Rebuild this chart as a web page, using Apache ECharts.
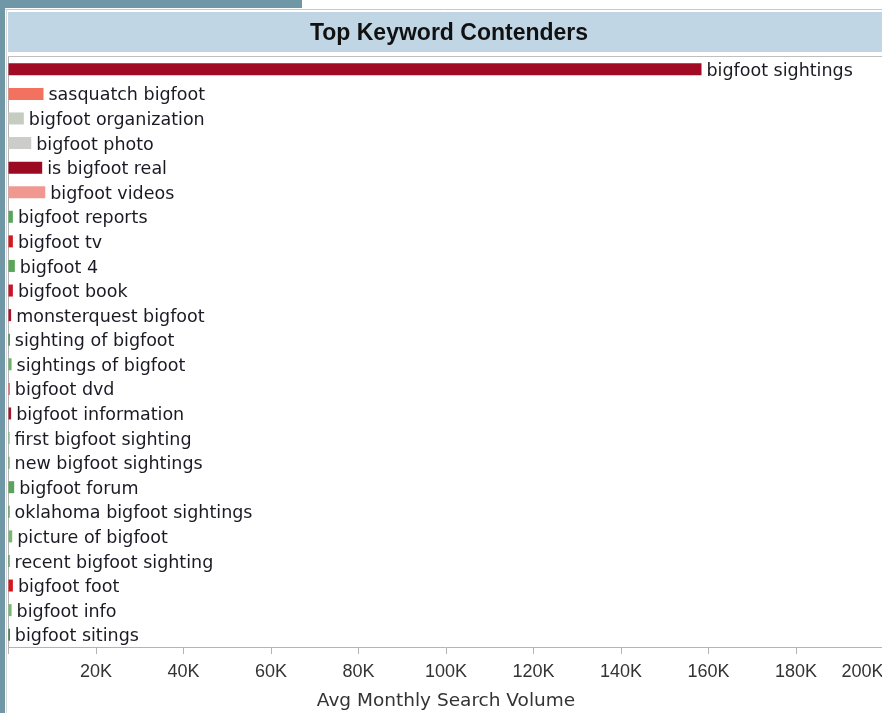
<!DOCTYPE html>
<html>
<head>
<meta charset="utf-8">
<script src="https://cdn.jsdelivr.net/npm/echarts@6/dist/echarts.min.js"></script>
<style>
html,body{margin:0;padding:0;background:#fff;}
#chart{width:882px;height:713px;}
</style>
</head>
<body>
<div id="chart"></div>
<script>
var categories = ['bigfoot sightings', 'sasquatch bigfoot', 'bigfoot organization', 'bigfoot photo', 'is bigfoot real', 'bigfoot videos', 'bigfoot reports', 'bigfoot tv', 'bigfoot 4', 'bigfoot book', 'monsterquest bigfoot', 'sighting of bigfoot', 'sightings of bigfoot', 'bigfoot dvd', 'bigfoot information', 'first bigfoot sighting', 'new bigfoot sightings', 'bigfoot forum', 'oklahoma bigfoot sightings', 'picture of bigfoot', 'recent bigfoot sighting', 'bigfoot foot', 'bigfoot info', 'bigfoot sitings'];
var searchVolume = [158400, 8000, 3500, 5200, 7700, 8400, 1000, 1000, 1450, 1000, 600, 300, 700, 300, 600, 250, 250, 1300, 250, 850, 250, 1000, 700, 300];
var xTickValues = [20000, 40000, 60000, 80000, 100000, 120000, 140000, 160000, 180000, 200000];
var titleText = 'Top Keyword Contenders';
var axisTitle = 'Avg Monthly Search Volume';

var barColors = ['#a10b23', '#f2725f', '#c5ccc0', '#cccdc8', '#9c0a22', '#f09890', '#5aa55a', '#d41a1f', '#5ca65c', '#c8152a', '#a8132b', '#2f8a3b', '#6cb06a', '#e8555a', '#a0182e', '#7cba76', '#5ea55e', '#5ba35b', '#3e9445', '#79b873', '#3a8f42', '#d6151d', '#77b870', '#1a6e30'];

var chart = echarts.init(document.getElementById('chart'), null, {renderer: 'canvas'});
var teal = '#6f97a5';
var option = {
  animation: false,
  backgroundColor: '#ffffff',
  graphic: [
    {type: 'rect', shape: {x: 0, y: 0, width: 5, height: 713}, style: {fill: teal}, silent: true},
    {type: 'rect', shape: {x: 0, y: 0, width: 302, height: 8}, style: {fill: teal}, silent: true},
    {type: 'line', shape: {x1: 5, y1: 9.5, x2: 882, y2: 9.5}, style: {stroke: '#c8c8c8', lineWidth: 1}, silent: true},
    {type: 'line', shape: {x1: 6.5, y1: 9, x2: 6.5, y2: 713}, style: {stroke: '#d8d8d8', lineWidth: 1}, silent: true},
    {type: 'rect', shape: {x: 8, y: 12, width: 874, height: 40}, style: {fill: '#c1d6e4'}, silent: true},
    {type: 'line', shape: {x1: 8, y1: 56.5, x2: 882, y2: 56.5}, style: {stroke: '#c0c0c0', lineWidth: 1}, silent: true},
    {type: 'text', x: 449, y: 33.5, style: {text: titleText, fill: '#111', font: 'bold 23px "Liberation Sans", Arial, sans-serif', align: 'center', verticalAlign: 'middle'}, silent: true}
  ],
  grid: {left: 8.5, top: 57, width: 875, height: 590, containLabel: false, outerBoundsMode: 'none'},
  xAxis: {
    type: 'value',
    min: 0,
    max: 200000,
    interval: 20000,
    name: axisTitle,
    nameLocation: 'middle',
    nameGap: 45,
    nameTextStyle: {fontFamily: '"DejaVu Sans", sans-serif', fontSize: 18.5, color: '#333'},
    axisLine: {show: true, lineStyle: {color: '#b4b4b4', width: 1}},
    axisTick: {show: true, length: 7, lineStyle: {color: '#b4b4b4'}},
    splitLine: {show: false},
    axisLabel: {
      margin: 16,
      fontFamily: '"Liberation Sans", Arial, sans-serif',
      fontSize: 18,
      color: '#333',
      alignMaxLabel: 'right',
      formatter: function (v) {
        return xTickValues.indexOf(v) >= 0 ? (v / 1000) + 'K' : '';
      }
    }
  },
  yAxis: {
    type: 'category',
    data: categories,
    inverse: true,
    axisLine: {show: true, lineStyle: {color: '#b4b4b4', width: 1}},
    axisTick: {show: false},
    axisLabel: {show: false},
    splitLine: {show: false}
  },
  series: [{
    type: 'bar',
    barWidth: 12,
    data: searchVolume.map(function (v, i) {
      return {value: v, itemStyle: {color: barColors[i]}};
    }),
    label: {
      show: true,
      position: 'right',
      distance: 5,
      offset: [0, 2],
      formatter: function (p) { return categories[p.dataIndex]; },
      fontFamily: '"DejaVu Sans", sans-serif',
      fontSize: 17.5,
      color: '#1a1a24'
    }
  }]
};
chart.setOption(option);
</script>
</body>
</html>
